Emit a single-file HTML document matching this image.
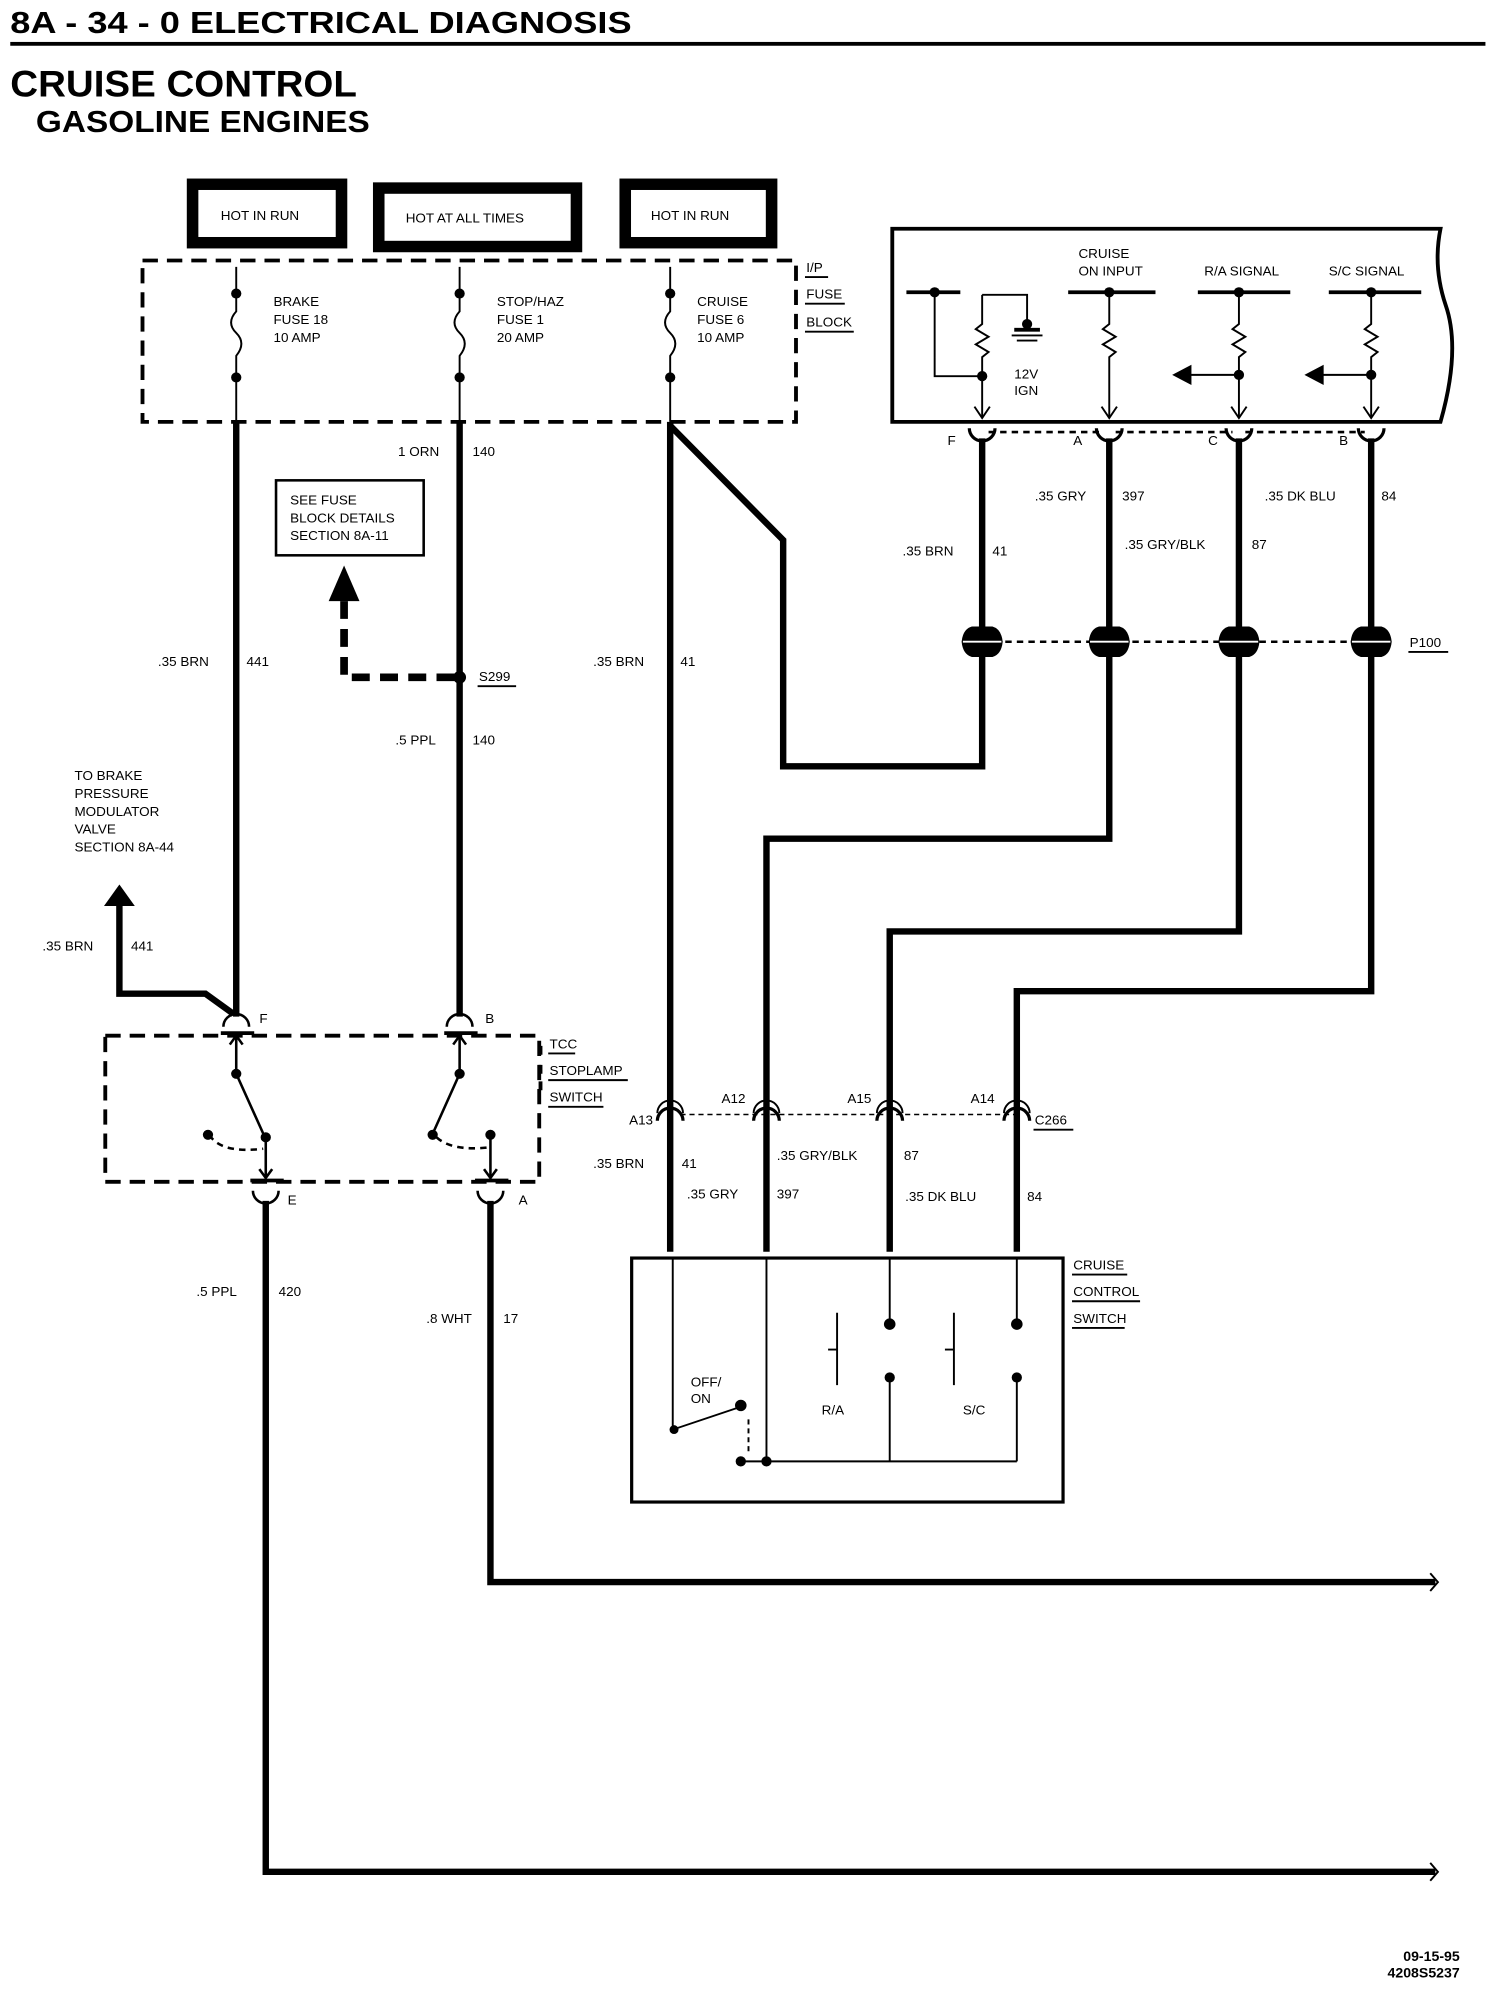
<!DOCTYPE html>
<html><head><meta charset="utf-8"><style>
html,body{margin:0;padding:0;background:#fff;}
svg{display:block;}
text{font-family:"Liberation Sans",sans-serif;fill:#000;}
.t{font-size:10.5px;}
.b{font-weight:bold;}
</style></head><body>
<svg width="1488" height="1990" viewBox="0 0 1159 1566" preserveAspectRatio="none" xmlns="http://www.w3.org/2000/svg">
<g>
<text x="8" y="26" class="b" font-size="24" textLength="484" lengthAdjust="spacingAndGlyphs">8A - 34 - 0  ELECTRICAL DIAGNOSIS</text>
<rect x="8" y="33" width="1149" height="3"/>
<text x="8" y="76" class="b" font-size="29" textLength="270" lengthAdjust="spacingAndGlyphs">CRUISE CONTROL</text>
<text x="28" y="104" class="b" font-size="24" textLength="260" lengthAdjust="spacingAndGlyphs">GASOLINE ENGINES</text>
</g>
<g fill="none" stroke="#000" stroke-width="9">
<rect x="150" y="145" width="116" height="46"/>
<rect x="295" y="148" width="154" height="46"/>
<rect x="487" y="145" width="114" height="46"/>
</g>
<text x="172" y="173" class="t">HOT IN RUN</text>
<text x="316" y="175" class="t">HOT AT ALL TIMES</text>
<text x="507" y="173" class="t">HOT IN RUN</text>
<rect x="111" y="205" width="509" height="127" fill="none" stroke="#000" stroke-width="3" stroke-dasharray="12,7"/>
<g stroke="#000" stroke-width="1.5" fill="none">
<path d="M184 210V245 Q176 254 184 262 Q192 270 184 280V332"/>
<path d="M358 210V245 Q350 254 358 262 Q366 270 358 280V332"/>
<path d="M522 210V245 Q514 254 522 262 Q530 270 522 280V332"/>
</g>
<g>
<circle cx="184" cy="231" r="4"/><circle cx="184" cy="297" r="4"/>
<circle cx="358" cy="231" r="4"/><circle cx="358" cy="297" r="4"/>
<circle cx="522" cy="231" r="4"/><circle cx="522" cy="297" r="4"/>
</g>
<text class="t"><tspan x="213" y="241">BRAKE</tspan><tspan x="213" y="255">FUSE 18</tspan><tspan x="213" y="269">10 AMP</tspan></text>
<text class="t"><tspan x="387" y="241">STOP/HAZ</tspan><tspan x="387" y="255">FUSE 1</tspan><tspan x="387" y="269">20 AMP</tspan></text>
<text class="t"><tspan x="543" y="241">CRUISE</tspan><tspan x="543" y="255">FUSE 6</tspan><tspan x="543" y="269">10 AMP</tspan></text>
<text class="t"><tspan x="628" y="214">I/P</tspan><tspan x="628" y="235">FUSE</tspan><tspan x="628" y="257">BLOCK</tspan></text>
<g stroke="#000" stroke-width="1.5"><path d="M627 218H645M627 239H658M627 261H665"/></g>
<g stroke="#000" stroke-width="5" fill="none">
<path d="M184 332V800"/>
<path d="M358 332V800"/>
<path d="M522 332V985"/>
<path d="M522 335L610 425V603H765V345"/>
<path d="M864 345V660H597V985"/>
<path d="M965 345V733H693V985"/>
<path d="M1068 345V780H792V985"/>
<path d="M93 712V782H160L182 798"/>
<path d="M207 945V1473H1118"/>
<path d="M382 945V1245H1118"/>
</g>
<path d="M1114 1238L1120 1245L1114 1252M1114 1466L1120 1473L1114 1480" stroke="#000" stroke-width="1.5" fill="none"/>
<polygon points="93,696 81,713 105,713"/>
<g class="t">
<text x="310" y="359">1 ORN</text><text x="368" y="359">140</text>
<text x="123" y="524">.35 BRN</text><text x="192" y="524">441</text>
<text x="462" y="524">.35 BRN</text><text x="530" y="524">41</text>
<text x="308" y="586">.5 PPL</text><text x="368" y="586">140</text>
<text x="33" y="748">.35 BRN</text><text x="102" y="748">441</text>
<text x="153" y="1020">.5 PPL</text><text x="217" y="1020">420</text>
<text x="332" y="1041">.8 WHT</text><text x="392" y="1041">17</text>
<text x="806" y="394">.35 GRY</text><text x="874" y="394">397</text>
<text x="985" y="394">.35 DK BLU</text><text x="1076" y="394">84</text>
<text x="703" y="437">.35 BRN</text><text x="773" y="437">41</text>
<text x="876" y="432">.35 GRY/BLK</text><text x="975" y="432">87</text>
<text x="462" y="919">.35 BRN</text><text x="531" y="919">41</text>
<text x="605" y="913">.35 GRY/BLK</text><text x="704" y="913">87</text>
<text x="535" y="943">.35 GRY</text><text x="605" y="943">397</text>
<text x="705" y="945">.35 DK BLU</text><text x="800" y="945">84</text>
</g>
<rect x="215" y="378" width="115" height="59" fill="none" stroke="#000" stroke-width="2"/>
<text class="t"><tspan x="226" y="397">SEE FUSE</tspan><tspan x="226" y="411">BLOCK DETAILS</tspan><tspan x="226" y="425">SECTION 8A-11</tspan></text>
<polygon points="268,445 256,473 280,473"/>
<path d="M268 473V533H358" stroke="#000" stroke-width="6" stroke-dasharray="14,8" fill="none"/>
<circle cx="358" cy="533" r="5"/>
<text x="373" y="536" class="t">S299</text><path d="M372 540H402" stroke="#000" stroke-width="1.5"/>
<text class="t"><tspan x="58" y="614">TO BRAKE</tspan><tspan x="58" y="628">PRESSURE</tspan><tspan x="58" y="642">MODULATOR</tspan><tspan x="58" y="656">VALVE</tspan><tspan x="58" y="670">SECTION 8A-44</tspan></text>
<rect x="82" y="815" width="338" height="115" fill="none" stroke="#000" stroke-width="3" stroke-dasharray="12,7"/>
<g stroke="#000" stroke-width="2" fill="none">
<path d="M174 808A10 10 0 0 1 194 808M348 808A10 10 0 0 1 368 808"/>
<path d="M197 937A10 10 0 0 0 217 937M372 937A10 10 0 0 0 392 937"/>
<path d="M172 813H198M346 813H372M195 929H221M370 929H396" stroke-width="3"/>
<path d="M184 815V845L205 892M207 895V927M358 815V845L338 890M382 893V927"/>
<path d="M179 822L184 815L189 822M353 822L358 815L363 822M202 920L207 927L212 920M377 920L382 927L387 920"/>
<path d="M163 893Q172 908 205 904M340 895Q352 906 380 903" stroke-dasharray="5,4"/>
</g>
<g><circle cx="184" cy="845" r="4"/><circle cx="207" cy="895" r="4"/><circle cx="162" cy="893" r="4"/><circle cx="358" cy="845" r="4"/><circle cx="337" cy="893" r="4"/><circle cx="382" cy="893" r="4"/></g>
<g class="t"><text x="202" y="805">F</text><text x="378" y="805">B</text><text x="224" y="948">E</text><text x="404" y="948">A</text></g>
<text class="t"><tspan x="428" y="825">TCC</tspan><tspan x="428" y="846">STOPLAMP</tspan><tspan x="428" y="867">SWITCH</tspan></text>
<path d="M427 829H448M427 850H489M427 871H470" stroke="#000" stroke-width="1.5"/>
<path d="M421 823V830M421 838V845M421 851V858" stroke="#000" stroke-width="3"/>
<path d="M695 180H1122 Q1116 210 1126 240 Q1138 275 1122 332H695Z" fill="none" stroke="#000" stroke-width="3"/>
<g stroke="#000" stroke-width="3"><path d="M706 230H748M832 230H900M933 230H1005M1035 230H1107"/></g>
<g stroke="#000" stroke-width="1.5" fill="none">
<path d="M728 230V296H765M765 232H800V255M765 232V255l-5 4 10 6-10 6 10 6-5 4V328"/>
<path d="M864 230V255l-5 4 10 6-10 6 10 6-5 4V328"/>
<path d="M965 230V255l-5 4 10 6-10 6 10 6-5 4V328M965 295H925"/>
<path d="M1068 230V255l-5 4 10 6-10 6 10 6-5 4V328M1068 295H1028"/>
<path d="M759 320L765 329L771 320M858 320L864 329L870 320M959 320L965 329L971 320M1062 320L1068 329L1074 320"/>
<path d="M788 264H812M792 268H808"/>
</g>
<polygon points="913,295 928,287 928,303"/><polygon points="1016,295 1031,287 1031,303"/>
<rect x="790" y="258" width="20" height="3"/>
<g><circle cx="728" cy="230" r="4"/><circle cx="765" cy="296" r="4"/><circle cx="800" cy="255" r="4"/><circle cx="864" cy="230" r="4"/><circle cx="965" cy="230" r="4"/><circle cx="965" cy="295" r="4"/><circle cx="1068" cy="230" r="4"/><circle cx="1068" cy="295" r="4"/></g>
<text class="t"><tspan x="840" y="203">CRUISE</tspan><tspan x="840" y="217">ON INPUT</tspan><tspan x="938" y="217">R/A SIGNAL</tspan><tspan x="1035" y="217">S/C SIGNAL</tspan><tspan x="790" y="298">12V</tspan><tspan x="790" y="311">IGN</tspan></text>
<path d="M770 340H859M869 340H960M970 340H1063" stroke="#000" stroke-width="2" stroke-dasharray="5,4"/>
<g stroke="#000" stroke-width="2.5" fill="none">
<path d="M755 337A10 10 0 0 0 775 337M854 337A10 10 0 0 0 874 337M955 337A10 10 0 0 0 975 337M1058 337A10 10 0 0 0 1078 337"/>
</g>
<g class="t"><text x="738" y="350">F</text><text x="836" y="350">A</text><text x="941" y="350">C</text><text x="1043" y="350">B</text></g>
<path d="M765 505H1068" stroke="#000" stroke-width="2" stroke-dasharray="5,4"/>
<g>
<path d="M749 505Q750 495 757 493H773Q780 495 781 505Q780 515 773 517H757Q750 515 749 505Z"/>
<path d="M848 505Q849 495 856 493H872Q879 495 880 505Q879 515 872 517H856Q849 515 848 505Z"/>
<path d="M949 505Q950 495 957 493H973Q980 495 981 505Q980 515 973 517H957Q950 515 949 505Z"/>
<path d="M1052 505Q1053 495 1060 493H1076Q1083 495 1084 505Q1083 515 1076 517H1060Q1053 515 1052 505Z"/>
</g>
<path d="M750 505H780M849 505H879M950 505H980M1053 505H1083" stroke="#fff" stroke-width="1.5"/>
<text x="1098" y="509" class="t">P100</text><path d="M1097 513H1128" stroke="#000" stroke-width="1.5"/>
<path d="M530 877H792" stroke="#000" stroke-width="1.2" stroke-dasharray="4,3"/>
<g stroke="#000" stroke-width="2.5" fill="none">
<path d="M512 882A10 10 0 0 1 532 882M587 882A10 10 0 0 1 607 882M683 882A10 10 0 0 1 703 882M782 882A10 10 0 0 1 802 882"/>
<path d="M512 876A10 10 0 0 1 532 876M587 876A10 10 0 0 1 607 876M683 876A10 10 0 0 1 703 876M782 876A10 10 0 0 1 802 876" stroke-width="1.5"/>
</g>
<g class="t"><text x="490" y="885">A13</text><text x="562" y="868">A12</text><text x="660" y="868">A15</text><text x="756" y="868">A14</text><text x="806" y="885">C266</text></g>
<path d="M805 889H836" stroke="#000" stroke-width="1.5"/>
<rect x="492" y="990" width="336" height="192" fill="none" stroke="#000" stroke-width="2.5"/>
<g stroke="#000" stroke-width="1.5" fill="none">
<path d="M524 990V1125L577 1107M597 990V1150M577 1150H792M693 990V1042M693 1084V1150M792 990V1042M792 1084V1150"/>
<path d="M583 1117V1145" stroke-dasharray="4,3"/>
<path d="M652 1033V1090M645 1062H652M743 1033V1090M736 1062H743"/>
</g>
<g><circle cx="525" cy="1125" r="3.5"/><circle cx="577" cy="1106" r="4.5"/><circle cx="577" cy="1150" r="4"/><circle cx="597" cy="1150" r="4"/><circle cx="693" cy="1042" r="4.5"/><circle cx="693" cy="1084" r="4"/><circle cx="792" cy="1042" r="4.5"/><circle cx="792" cy="1084" r="4"/></g>
<text class="t"><tspan x="538" y="1091">OFF/</tspan><tspan x="538" y="1104">ON</tspan><tspan x="640" y="1113">R/A</tspan><tspan x="750" y="1113">S/C</tspan></text>
<text class="t"><tspan x="836" y="999">CRUISE</tspan><tspan x="836" y="1020">CONTROL</tspan><tspan x="836" y="1041">SWITCH</tspan></text>
<path d="M835 1003H878M835 1024H888M835 1045H876" stroke="#000" stroke-width="1.5"/>
<text x="1137" y="1543" class="b" font-size="11" text-anchor="end">09-15-95</text>
<text x="1137" y="1556" class="b" font-size="11" text-anchor="end">4208S5237</text>
</svg>
</body></html>
